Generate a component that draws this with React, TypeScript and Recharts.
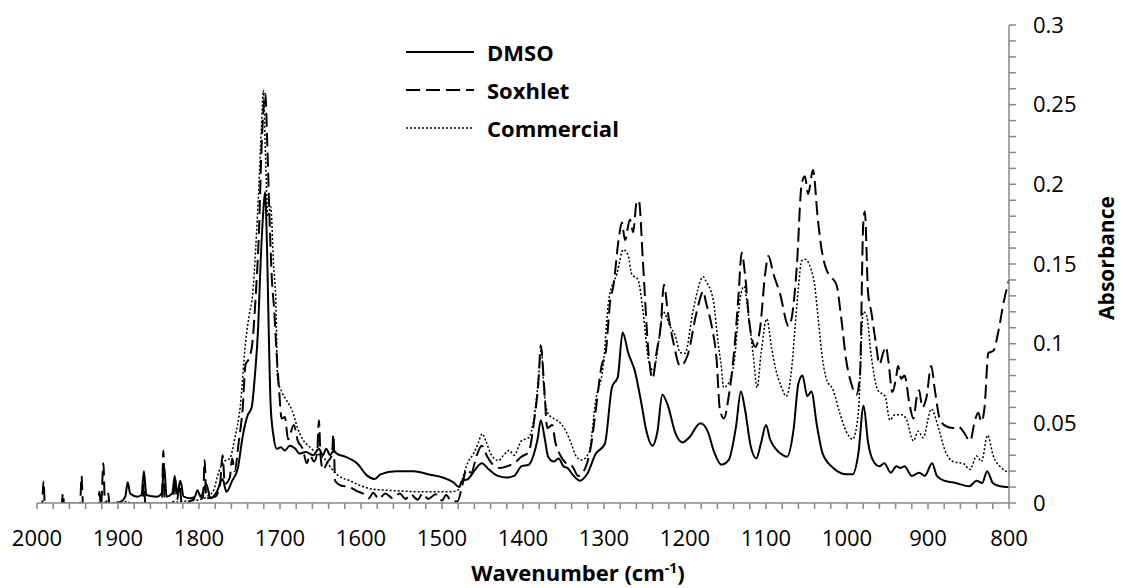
import React from "react";
import { LineChart, Line, XAxis, YAxis } from "recharts";

/* ---------------- DATA (wavenumber cm-1, absorbance) ---------------- */

const dmsoPoints: [number, number][] = [
  [2000, -0.004], [1960, -0.004], [1920, -0.003], [1896, 0.001], [1891, 0.004], [1888, 0.013],
  [1885, 0.006], [1876, 0.004], [1871, 0.005], [1868, 0.02], [1865, 0.005], [1852, 0.004],
  [1846, 0.006], [1843, 0.023], [1840, 0.004], [1833, 0.006], [1830, 0.017], [1827, 0.006],
  [1823, 0.014], [1819, 0.004], [1810, 0.003], [1805, 0.004], [1802, 0.008], [1798, 0.004],
  [1791, 0.012], [1786, 0.003], [1778, 0.007], [1771, 0.015], [1766, 0.007], [1759, 0.014],
  [1752, 0.022], [1746, 0.042], [1740, 0.055], [1735, 0.06], [1731, 0.08], [1727, 0.11],
  [1724, 0.15], [1721, 0.18], [1718.5, 0.195], [1716, 0.16], [1714, 0.11], [1711.5, 0.061],
  [1708, 0.042], [1704, 0.034], [1699, 0.035], [1694, 0.033], [1688, 0.036], [1681, 0.034],
  [1676, 0.031], [1668, 0.032], [1659, 0.03], [1652, 0.034], [1647, 0.03], [1643, 0.034],
  [1638, 0.03], [1634, 0.033], [1630, 0.031], [1619, 0.029], [1605, 0.025], [1592, 0.017],
  [1583, 0.015], [1576, 0.018], [1557, 0.02], [1535, 0.02], [1517, 0.018], [1499, 0.016],
  [1486, 0.013], [1479, 0.01], [1475, 0.014], [1468, 0.015], [1459, 0.021], [1451, 0.025],
  [1442, 0.021], [1431, 0.017], [1420, 0.016], [1411, 0.017], [1402, 0.023], [1393, 0.024],
  [1387, 0.03], [1382, 0.04], [1378, 0.052], [1373, 0.04], [1369, 0.029], [1362, 0.026],
  [1356, 0.028], [1350, 0.023], [1345, 0.022], [1339, 0.018], [1330, 0.014], [1321, 0.018],
  [1310, 0.031], [1299, 0.037], [1290, 0.073], [1283, 0.079], [1277, 0.107], [1270, 0.094],
  [1262, 0.083], [1254, 0.063], [1248, 0.046], [1240, 0.036], [1234, 0.045], [1228, 0.068],
  [1221, 0.061], [1212, 0.044], [1203, 0.038], [1195, 0.041], [1181, 0.05], [1172, 0.045],
  [1164, 0.032], [1155, 0.024], [1146, 0.027], [1137, 0.048], [1131, 0.07], [1126, 0.059],
  [1119, 0.036], [1112, 0.028], [1106, 0.038], [1100, 0.049], [1095, 0.04], [1088, 0.034],
  [1079, 0.03], [1074, 0.029], [1066, 0.046], [1060, 0.075], [1055, 0.08], [1049, 0.067],
  [1044, 0.07], [1037, 0.048], [1030, 0.031], [1017, 0.022], [1000, 0.018], [993, 0.018],
  [986, 0.031], [979.5, 0.061], [974, 0.038], [966, 0.025], [960, 0.023], [954, 0.025],
  [946, 0.019], [939, 0.023], [934, 0.022], [929, 0.023], [920, 0.017], [911, 0.019],
  [904, 0.017], [895, 0.025], [889, 0.017], [880, 0.014], [866, 0.0126], [849, 0.0105],
  [840, 0.014], [833, 0.0126], [827, 0.02], [820, 0.0126], [811, 0.0105], [800, 0.0099],
];

const soxhletPoints: [number, number][] = [
  [2000, -0.003], [1994, -0.004], [1992, 0.014], [1990, -0.004], [1970, -0.004], [1968, 0.006],
  [1966, -0.004], [1947, -0.004], [1945, 0.017], [1943, -0.004], [1925, -0.003], [1923, 0.007],
  [1921, -0.002], [1918, 0.025], [1916, -0.003], [1912, 0.006], [1910, -0.004], [1880, -0.004],
  [1870, -0.002], [1868, 0.012], [1866, -0.002], [1846, -0.002], [1844, 0.033], [1842, -0.002],
  [1832, 0.0], [1830, 0.016], [1827, 0.002], [1824, 0.012], [1821, -0.002], [1808, 0.002],
  [1800, 0.004], [1795, 0.003], [1793, 0.027], [1791, 0.003], [1780, 0.004], [1774, 0.012],
  [1771, 0.03], [1768, 0.012], [1762, 0.016], [1759, 0.028], [1756, 0.02], [1751, 0.038],
  [1746, 0.06], [1742.5, 0.087], [1738, 0.091], [1734, 0.101], [1730, 0.13], [1726, 0.17],
  [1723, 0.22], [1720, 0.25], [1718, 0.257], [1716, 0.23], [1713, 0.18], [1710, 0.14],
  [1707, 0.12], [1705, 0.101], [1701, 0.07], [1698, 0.053], [1694, 0.054], [1690, 0.04],
  [1683, 0.049], [1678, 0.039], [1672, 0.034], [1667, 0.025], [1663, 0.03], [1658, 0.026],
  [1654, 0.032], [1652, 0.052], [1650, 0.03], [1647, 0.021], [1641, 0.026], [1636, 0.03],
  [1634, 0.043], [1632, 0.014], [1625, 0.011], [1614, 0.01], [1605, 0.0075], [1596, 0.0055],
  [1590, 0.003], [1585, 0.0065], [1578, 0.0025], [1570, 0.006], [1561, 0.003], [1552, 0.006],
  [1545, 0.0025], [1539, 0.0055], [1530, 0.002], [1524, 0.006], [1517, 0.0025], [1508, 0.0055],
  [1500, 0.0015], [1495, 0.005], [1488, 0.001], [1481, 0.001], [1475, 0.011], [1470, 0.021],
  [1464, 0.019], [1457, 0.03], [1451, 0.036], [1444, 0.029], [1437, 0.024], [1428, 0.022],
  [1420, 0.023], [1411, 0.025], [1402, 0.029], [1393, 0.032], [1387, 0.049], [1381, 0.076],
  [1378, 0.099], [1374, 0.074], [1370, 0.047], [1364, 0.049], [1360, 0.038], [1354, 0.03],
  [1347, 0.025], [1339, 0.023], [1332, 0.017], [1323, 0.022], [1316, 0.036], [1310, 0.059],
  [1303, 0.086], [1298, 0.094], [1292, 0.128], [1288.5, 0.136], [1282, 0.165], [1278, 0.176],
  [1274, 0.165], [1268, 0.178], [1264, 0.17], [1260, 0.188], [1257, 0.19], [1252, 0.152],
  [1245, 0.094], [1240, 0.078], [1235, 0.095], [1230, 0.111], [1226, 0.137], [1221, 0.119],
  [1214, 0.1], [1206, 0.086], [1196, 0.094], [1186, 0.119], [1177, 0.133], [1175, 0.128],
  [1167, 0.111], [1161, 0.09], [1157, 0.059], [1152, 0.053], [1146, 0.067], [1139, 0.097],
  [1134, 0.13], [1130, 0.157], [1126, 0.144], [1120, 0.111], [1113, 0.098], [1107, 0.111],
  [1101, 0.144], [1097, 0.155], [1091, 0.144], [1083, 0.132], [1072, 0.111], [1068, 0.117],
  [1062, 0.148], [1056, 0.2], [1052, 0.205], [1048, 0.194], [1042, 0.209], [1036, 0.178],
  [1031, 0.158], [1025, 0.146], [1019, 0.1415], [1013, 0.137], [1007, 0.1156], [1001, 0.0896],
  [995, 0.0755], [988.5, 0.068], [984, 0.08], [980, 0.1745], [978, 0.183], [974, 0.132],
  [970, 0.12], [964, 0.099], [960, 0.087], [955.5, 0.094], [952, 0.098], [949, 0.0896],
  [944, 0.0696], [939, 0.08], [937, 0.086], [933, 0.078], [929, 0.08], [922.5, 0.061],
  [918, 0.053], [914, 0.066], [911, 0.0708], [907, 0.06], [902, 0.066], [896, 0.086],
  [891.5, 0.0708], [885, 0.052], [877, 0.048], [869, 0.047], [863, 0.048], [856.5, 0.045],
  [848, 0.039], [842, 0.052], [838, 0.0566], [834, 0.051], [830, 0.061], [825.6, 0.094],
  [819.4, 0.0955], [813, 0.108], [807, 0.125], [800, 0.14],
];

const commercialPoints: [number, number][] = [
  [2000, -0.002], [1960, 0.0], [1920, -0.001], [1895, 0.001], [1880, 0.0], [1840, 0.0],
  [1820, 0.001], [1800, 0.002], [1790, 0.004], [1782, 0.008], [1776, 0.019], [1769, 0.026],
  [1762, 0.028], [1756, 0.04], [1749, 0.061], [1742.5, 0.101], [1738, 0.118], [1734, 0.13],
  [1730, 0.16], [1726, 0.2], [1723, 0.235], [1720.6, 0.259], [1718, 0.22], [1715, 0.18],
  [1711.5, 0.186], [1708, 0.15], [1705, 0.124], [1703, 0.078], [1698, 0.07], [1692, 0.0645],
  [1685, 0.058], [1678, 0.0466], [1672, 0.04], [1663, 0.035], [1654, 0.031], [1645, 0.0277],
  [1636, 0.0214], [1627.5, 0.017], [1614, 0.014], [1601, 0.011], [1587, 0.0088], [1561, 0.0078],
  [1517, 0.007], [1490, 0.007], [1481, 0.0078], [1475, 0.015], [1468, 0.0256], [1461, 0.031],
  [1455, 0.038], [1450.5, 0.0435], [1446, 0.039], [1439, 0.03], [1430, 0.0267], [1424, 0.03],
  [1417, 0.033], [1411, 0.03], [1402, 0.039], [1393, 0.041], [1386.5, 0.053], [1380.5, 0.08],
  [1377.5, 0.097], [1374, 0.07], [1369, 0.056], [1362, 0.053], [1355.5, 0.051], [1347, 0.045],
  [1341, 0.038], [1334, 0.029], [1327.5, 0.027], [1318.6, 0.0315], [1310, 0.065], [1301, 0.086],
  [1294, 0.128], [1284, 0.144], [1276, 0.159], [1270, 0.155], [1266, 0.144], [1258, 0.14],
  [1251.5, 0.119], [1245, 0.0898], [1239, 0.083], [1232, 0.103], [1227, 0.12], [1218.5, 0.111],
  [1212, 0.105], [1206, 0.0945], [1200, 0.094], [1190, 0.121], [1177.4, 0.142], [1175, 0.14],
  [1165, 0.127], [1159, 0.1], [1155, 0.085], [1152.4, 0.0725], [1145.7, 0.0756], [1139, 0.09],
  [1132, 0.128], [1127, 0.136], [1122, 0.119], [1116, 0.094], [1111, 0.0725], [1106, 0.0945],
  [1099, 0.1155], [1093, 0.097], [1088, 0.084], [1081.5, 0.0735], [1075, 0.067], [1068, 0.086],
  [1064, 0.111], [1060, 0.135], [1056, 0.152], [1052, 0.153], [1044, 0.146], [1040, 0.137],
  [1036, 0.118], [1030, 0.0896], [1025.6, 0.078], [1017, 0.0708], [1009, 0.0566], [1001, 0.045],
  [993, 0.04], [986, 0.0566], [980, 0.12], [976, 0.118], [970, 0.092], [962, 0.0708],
  [953, 0.067], [947, 0.052], [941, 0.0554], [933, 0.0554], [927, 0.053], [918, 0.039],
  [912, 0.045], [906, 0.041], [896, 0.059], [887, 0.047], [879, 0.033], [869, 0.026],
  [856.5, 0.0248], [848, 0.021], [840, 0.0295], [834, 0.026], [826.4, 0.0425], [819.4, 0.0295],
  [809, 0.022], [800, 0.019],
];

/* ---------------- AXES ---------------- */

// minor ticks every 20 cm-1 / 0.01, labels only on the major ones
const xTicks = Array.from({ length: 61 }, (_, i) => 2000 - i * 20);
const yTicks = Array.from({ length: 31 }, (_, i) => i / 100);

const toRows = (pts: [number, number][]) => pts.map(([wn, a]) => ({ wn, a }));

const SERIES = [
  { name: "DMSO", data: toRows(dmsoPoints), dash: undefined, width: 2 },
  { name: "Soxhlet", data: toRows(soxhletPoints), dash: "14 6", width: 2 },
  { name: "Commercial", data: toRows(commercialPoints), dash: "2 2", width: 1.5 },
];

const FONT = "'Open Sans', 'DejaVu Sans', sans-serif";
const GREY = "#888888";

function XLabel() {
  return (
    <text x={578} y={581} textAnchor="middle" fontFamily={FONT} fontSize={22} fontWeight="bold" fill="#000">
      Wavenumber (cm
      <tspan dy={-8} fontSize={14}>-1</tspan>
      <tspan dy={8}>)</tspan>
    </text>
  );
}

function YLabel() {
  return (
    <text
      x={1106}
      y={258}
      transform="rotate(-90 1106 258)"
      textAnchor="middle"
      dominantBaseline="central"
      fontFamily={FONT}
      fontSize={21}
      fontWeight="bold"
      fill="#000"
    >
      Absorbance
    </text>
  );
}

export default function App() {
  return (
    <div style={{ position: "absolute", left: 0, top: 0, width: 1123, height: 588, background: "#fff" }}>
      <LineChart width={1123} height={588} margin={{ top: 25, right: 54, bottom: 55, left: 37 }}>
        <XAxis
          type="number"
          dataKey="wn"
          domain={[800, 2000]}
          reversed
          allowDataOverflow
          ticks={xTicks}
          interval={0}
          tickFormatter={(v: number) => (v % 100 === 0 ? String(v) : "")}
          height={30}
          tickSize={6}
          tickMargin={21}
          axisLine={{ stroke: GREY, strokeWidth: 1.5 }}
          tickLine={{ stroke: GREY, strokeWidth: 1.5 }}
          tick={{ fontSize: 22, fill: "#000", fontFamily: FONT }}
          label={<XLabel />}
        />
        <YAxis
          orientation="right"
          type="number"
          domain={[0, 0.3]}
          allowDataOverflow
          ticks={yTicks}
          interval={0}
          tickFormatter={(v: number) => (Math.round(v * 100) % 5 === 0 ? String(+v.toFixed(2)) : "")}
          width={60}
          tickSize={7}
          tickMargin={17}
          axisLine={{ stroke: GREY, strokeWidth: 1.5 }}
          tickLine={{ stroke: GREY, strokeWidth: 1.5 }}
          tick={{ fontSize: 22, fill: "#000", fontFamily: FONT }}
          label={<YLabel />}
        />
        {SERIES.map((s) => (
          <Line
            key={s.name}
            name={s.name}
            data={s.data}
            dataKey="a"
            type="monotone"
            stroke="#000"
            strokeWidth={s.width}
            strokeDasharray={s.dash}
            dot={false}
            activeDot={false}
            isAnimationActive={false}
          />
        ))}
      </LineChart>

      {/* legend */}
      <div style={{ position: "absolute", left: 406, top: 33, fontFamily: FONT }}>
        {SERIES.map((s) => (
          <div key={s.name} style={{ display: "flex", alignItems: "center", height: 38 }}>
            <svg width={68} height={10} style={{ marginRight: 13 }}>
              <line x1={0} y1={5} x2={68} y2={5} stroke="#000" strokeWidth={s.width} strokeDasharray={s.dash} />
            </svg>
            <span style={{ fontSize: 22, fontWeight: "bold", color: "#000" }}>{s.name}</span>
          </div>
        ))}
      </div>
    </div>
  );
}
